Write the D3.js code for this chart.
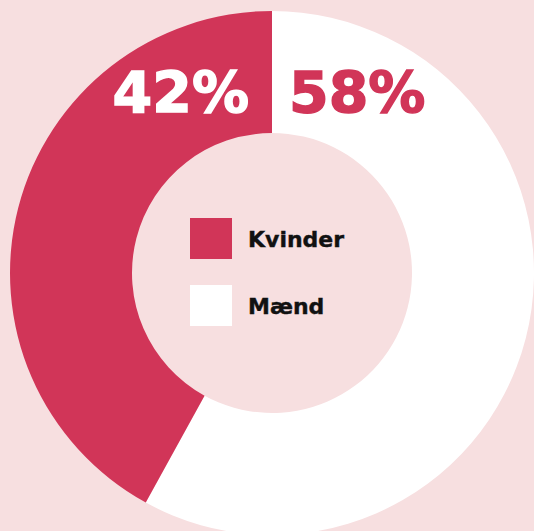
<!DOCTYPE html>
<html>
<head>
<meta charset="utf-8">
<script src="https://cdn.jsdelivr.net/npm/d3@7"></script>
<style>
  html, body { margin: 0; padding: 0; background: #f7dfe0; }
  svg { display: block; }
</style>
</head>
<body>
<div id="chart"></div>
<script>
var categories = ["Mænd", "Kvinder"];
var values = [58, 42];
var colors = ["#ffffff", "#d13558"];
var legendOrder = ["Kvinder", "Mænd"];

var width = 534, height = 531;
var cx = 272, cy = 273,
    outerR = 262, innerR = 140;

var svg = d3.select("#chart").append("svg")
    .attr("width", width)
    .attr("height", height);

svg.append("rect")
    .attr("width", width)
    .attr("height", height)
    .attr("fill", "#f7dfe0");

var color = d3.scaleOrdinal().domain(categories).range(colors);

var pie = d3.pie()
    .sort(null)
    .value(function(d) { return d.value; });

var arc = d3.arc()
    .innerRadius(innerR)
    .outerRadius(outerR);

var data = categories.map(function(c, i) { return {name: c, value: values[i]}; });

var g = svg.append("g")
    .attr("transform", "translate(" + cx + "," + cy + ")");

g.selectAll("path")
    .data(pie(data))
  .enter().append("path")
    .attr("d", arc)
    .attr("fill", function(d) { return color(d.data.name); });

// percentage labels at the top, either side of the 12 o'clock split
var fmt = function(v) { return v + "%"; };
g.append("text")
    .attr("x", -23)
    .attr("y", 113 - cy)
    .attr("text-anchor", "end")
    .attr("fill", "#ffffff")
    .attr("stroke", "#ffffff")
    .attr("stroke-width", 1.5)
    .style("font", "bold 57px 'DejaVu Sans', sans-serif")
    .text(fmt(values[1]));

g.append("text")
    .attr("x", 17)
    .attr("y", 113 - cy)
    .attr("text-anchor", "start")
    .attr("fill", "#d13558")
    .attr("stroke", "#d13558")
    .attr("stroke-width", 1.5)
    .style("font", "bold 57px 'DejaVu Sans', sans-serif")
    .text(fmt(values[0]));

// legend in the hole
var legend = svg.append("g")
    .attr("transform", "translate(190,218)");

var item = legend.selectAll("g")
    .data(legendOrder)
  .enter().append("g")
    .attr("transform", function(d, i) { return "translate(0," + (i * 67) + ")"; });

item.append("rect")
    .attr("width", 42)
    .attr("height", 41)
    .attr("fill", function(d) { return color(d); });

item.append("text")
    .attr("x", 58)
    .attr("y", 29)
    .attr("fill", "#111")
    .attr("stroke", "#111")
    .attr("stroke-width", 0.4)
    .style("font", "bold 22px 'DejaVu Sans', sans-serif")
    .text(function(d) { return d; });
</script>
</body>
</html>
